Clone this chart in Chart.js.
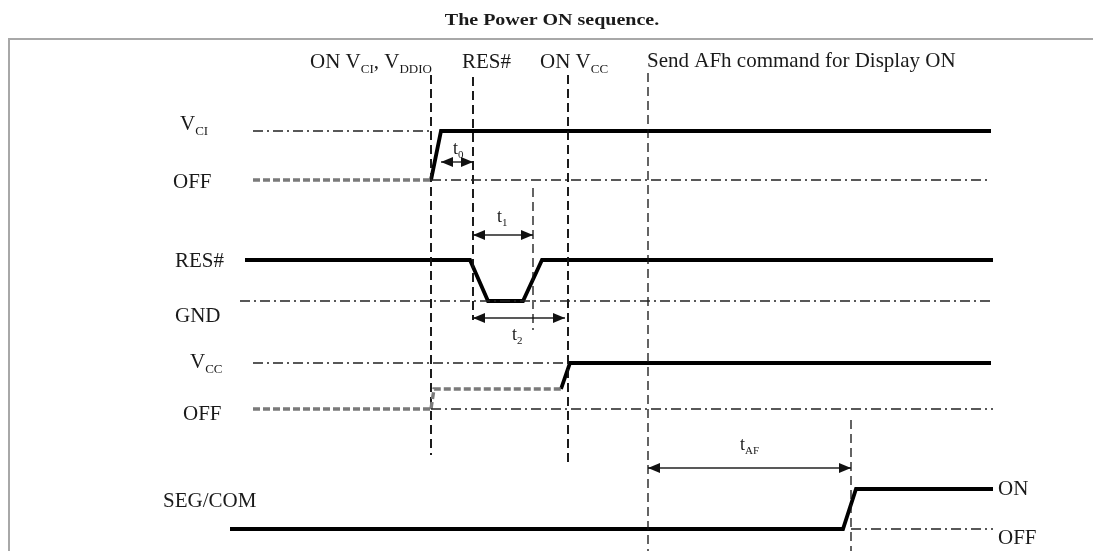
<!DOCTYPE html>
<html>
<head>
<meta charset="utf-8">
<script src="https://cdn.jsdelivr.net/npm/chart.js@4/dist/chart.umd.min.js"></script>
<style>
  html, body { margin: 0; padding: 0; background: #fff; }
  canvas { display: block; }
</style>
</head>
<body>
<canvas id="seq" width="1093" height="551"></canvas>
<script>
// Power ON sequence — timing diagram (time in arbitrary units, level in arbitrary units)

// Edge times
const tVciOn = 18.6, tVciHigh = 19.6;
const tResFall = 22.5, tResLow = 24.3, tResRise = 27.8, tResHigh = 29.7;
const tResMark = 22.8, tT1End = 28.8;
const tVccRise = 31.6, tVccHigh = 32.5, tVccMark = 32.3;
const tAfh = 40.3, tSegRise = 59.8, tSegMark = 60.6, tSegHigh = 61.1;
const tEnd = 74.6;

// Signal levels
const vciHi = 42.0, vciOff = 37.1;
const resHi = 29.1, gnd = 25.0;
const vccHi = 18.8, vccMid = 16.2, vccOff = 14.2;
const segOn = 6.2, segOff = 2.2;

// Waveforms (solid)
const vciWave = [[tVciOn, vciOff], [tVciHigh, vciHi], [tEnd, vciHi]];
const resWave = [[0, resHi], [tResFall, resHi], [tResLow, gnd], [tResRise, gnd], [tResHigh, resHi], [tEnd + 0.2, resHi]];
const vccWave = [[tVccRise, vccMid], [tVccHigh, vccHi], [tEnd, vccHi]];
const segWave = [[-1.5, segOff], [tSegRise, segOff], [tSegHigh, segOn], [tEnd + 0.2, segOn]];

// Reference lines (dash-dot)
const refLines = [
  [[0.8, vciHi], [tVciOn, vciHi]],
  [[tVciOn, vciOff], [tEnd - 0.2, vciOff]],
  [[-0.5, gnd], [tEnd + 0.2, gnd]],
  [[0.8, vccHi], [tVccMark, vccHi]],
  [[tVciOn, vccOff], [tEnd + 0.2, vccOff]],
  [[tSegMark, segOff], [tEnd + 0.2, segOff]],
];

// Ramping supply (grey dashes)
const greyLines = [
  [[0.8, vciOff], [tVciOn, vciOff]],
  [[0.8, vccOff], [tVciOn, vccOff]],
  [[tVciOn, vccOff], [tVciOn + 0.3, vccMid], [tVccRise, vccMid]],
];

// Event markers: time, top, bottom
const markerTimes = [tVciOn, tResMark, tT1End, tVccMark, tAfh, tSegMark];
const markerTops = [47.6, 47.4, 36.3, 47.6, 47.8, 13.1];
const markerBottoms = [9.6, 23.1, 22.1, 8.6, 0, 0];

// Timing arrows: from, to, level
const arrowFrom = [tVciHigh, tResMark, tResMark, tAfh];
const arrowTo = [tResMark, tT1End, 32.0, tSegMark];
const arrowLevel = [38.9, 31.6, 23.3, 8.3];

// Text: segments [text, sub], x, y (left baseline)
const labels = [
  { segs: [['The Power ON sequence.', 0]], x: 30.7, y: 52.6, bold: true, size: 16, stretch: 1.25, align: 'center' },
  { segs: [['ON V', 0], ['CI', 1], [', V', 0], ['DDIO', 1]], x: 6.5, y: 48.3 },
  { segs: [['RES#', 0]], x: 21.7, y: 48.3 },
  { segs: [['ON V', 0], ['CC', 1]], x: 29.5, y: 48.3 },
  { segs: [['Send AFh command for Display ON', 0]], x: 40.2, y: 48.4 },
  { segs: [['V', 0], ['CI', 1]], x: -6.5, y: 42.1 },
  { segs: [['OFF', 0]], x: -7.2, y: 36.3 },
  { segs: [['RES#', 0]], x: -7.0, y: 28.4 },
  { segs: [['GND', 0]], x: -7.0, y: 22.9 },
  { segs: [['V', 0], ['CC', 1]], x: -5.5, y: 18.3 },
  { segs: [['OFF', 0]], x: -6.2, y: 13.1 },
  { segs: [['SEG/COM', 0]], x: -8.2, y: 4.4 },
  { segs: [['ON', 0]], x: 75.3, y: 5.6 },
  { segs: [['OFF', 0]], x: 75.3, y: 0.7 },
  { segs: [['t', 0], ['0', 1]], x: 20.8, y: 39.7, size: 18 },
  { segs: [['t', 0], ['1', 1]], x: 25.2, y: 32.9, size: 18 },
  { segs: [['t', 0], ['2', 1]], x: 26.7, y: 21.1, size: 18 },
  { segs: [['t', 0], ['AF', 1]], x: 49.5, y: 10.1, size: 18 },
];

const pts = (arr) => arr.map(([x, y]) => ({ x, y }));
const SERIF = '"Liberation Serif", "DejaVu Serif", serif';
const dashDot = [10, 4, 2, 4];

const datasets = [];
refLines.forEach((l) => datasets.push({ data: pts(l), borderColor: '#222', borderWidth: 1.7, borderDash: dashDot }));
greyLines.forEach((l) => datasets.push({ data: pts(l), borderColor: '#7a7a7a', borderWidth: 3.4, borderDash: [7, 3] }));
markerTimes.forEach((t, i) => datasets.push({
  data: pts([[t, markerTops[i]], [t, markerBottoms[i]]]),
  borderColor: '#111', borderWidth: i === 2 || i >= 4 ? 1.3 : 1.9, borderDash: [9, 5],
}));
arrowFrom.forEach((f, i) => datasets.push({
  data: pts([[f, arrowLevel[i]], [arrowTo[i], arrowLevel[i]]]),
  borderColor: '#222', borderWidth: 1.4, arrow: true,
}));
[vciWave, resWave, vccWave, segWave].forEach((w) => datasets.push({
  data: pts(w), borderColor: '#000', borderWidth: 3.8, borderJoinStyle: 'miter',
}));

const drawRich = (ctx, item, px, py) => {
  const size = item.size ?? 21;
  const k = item.stretch ?? 1;
  const main = `${item.bold ? 'bold ' : ''}${size}px ${SERIF}`;
  const sub = `${Math.round(size * 0.62)}px ${SERIF}`;
  let total = 0;
  item.segs.forEach(([s, isSub]) => { ctx.font = isSub ? sub : main; total += ctx.measureText(s).width; });
  ctx.save();
  ctx.translate(px, py);
  ctx.scale(k, 1);
  let x = item.align === 'center' ? -total / 2 : 0;
  item.segs.forEach(([s, isSub]) => {
    ctx.font = isSub ? sub : main;
    ctx.fillText(s, x, isSub ? size * 0.22 : 0);
    x += ctx.measureText(s).width;
  });
  ctx.restore();
};

const decor = {
  id: 'decor',
  beforeDraw(chart) {
    const { ctx, width, height } = chart;
    ctx.save();
    ctx.fillStyle = '#fff';
    ctx.fillRect(0, 0, width, height);
    ctx.strokeStyle = '#a8a8a8';
    ctx.lineWidth = 2;
    ctx.beginPath();
    ctx.moveTo(9, height);
    ctx.lineTo(9, 39);
    ctx.lineTo(width, 39);
    ctx.stroke();
    ctx.restore();
  },
  afterDatasetsDraw(chart) {
    const { ctx } = chart;
    const xs = chart.scales.x, ys = chart.scales.y;
    ctx.save();
    ctx.fillStyle = '#111';
    chart.data.datasets.forEach((ds, i) => {
      if (!ds.arrow) return;
      const [a, b] = chart.getDatasetMeta(i).data;
      [[a, 1], [b, -1]].forEach(([p, dir]) => {
        ctx.beginPath();
        ctx.moveTo(p.x, p.y);
        ctx.lineTo(p.x + dir * 12, p.y - 5);
        ctx.lineTo(p.x + dir * 12, p.y + 5);
        ctx.closePath();
        ctx.fill();
      });
    });
    ctx.fillStyle = '#1a1a1a';
    ctx.textBaseline = 'alphabetic';
    labels.forEach((l) => drawRich(ctx, l, xs.getPixelForValue(l.x), ys.getPixelForValue(l.y)));
    ctx.restore();
  },
};

new Chart(document.getElementById('seq'), {
  type: 'scatter',
  data: { datasets },
  options: {
    responsive: false,
    animation: false,
    devicePixelRatio: 1,
    showLine: true,
    layout: { padding: 0 },
    elements: { point: { radius: 0, hoverRadius: 0 }, line: { tension: 0, borderCapStyle: 'butt' } },
    scales: {
      x: { type: 'linear', min: -24.5, max: 84.8, display: false },
      y: { type: 'linear', min: 0, max: 55.1, display: false },
    },
    plugins: { legend: { display: false }, tooltip: { enabled: false }, title: { display: false } },
  },
  plugins: [decor],
});
</script>
</body>
</html>
